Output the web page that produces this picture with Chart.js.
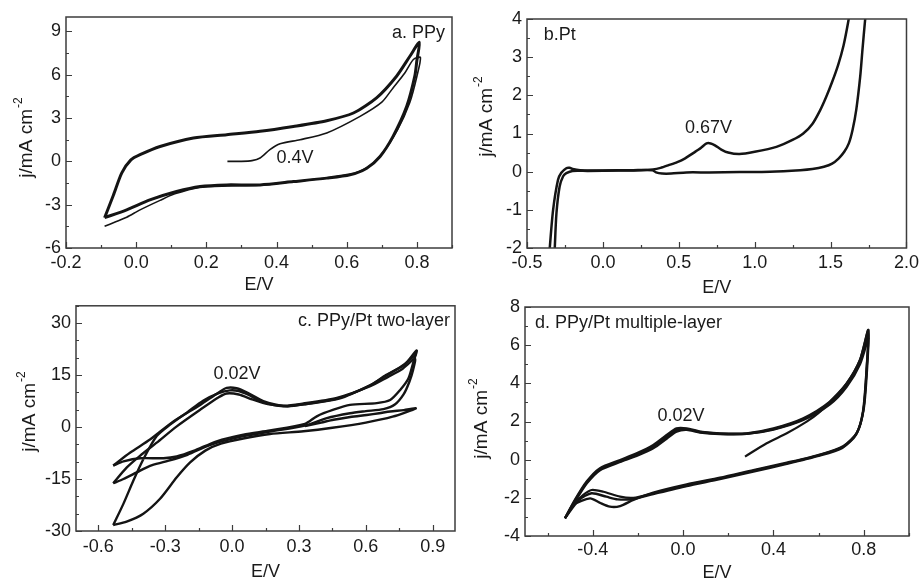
<!DOCTYPE html>
<html>
<head>
<meta charset="utf-8">
<script src="https://cdn.jsdelivr.net/npm/chart.js@4.4.1/dist/chart.umd.min.js"></script>
<style>
  html, body { margin: 0; padding: 0; background: #fff; overflow: hidden; }
  body { width: 923px; height: 580px; position: relative; }
  canvas { position: absolute; }
</style>
</head>
<body>
<canvas id="chart-a" width="462" height="300" style="left:0;top:0"></canvas>
<canvas id="chart-b" width="461" height="300" style="left:462px;top:0"></canvas>
<canvas id="chart-c" width="462" height="300" style="left:0;top:290px"></canvas>
<canvas id="chart-d" width="461" height="300" style="left:462px;top:290px"></canvas>
<script>
const FONT = '"Liberation Sans", Arial, sans-serif';

// a. PPy  (E/V, j/mA cm-2)
const aScan1E = [0.26, 0.30, 0.33, 0.353, 0.381, 0.41, 0.467, 0.543, 0.638, 0.70, 0.732, 0.765, 0.79, 0.81,
                 0.80, 0.78, 0.745, 0.70, 0.66, 0.61, 0.54, 0.45, 0.35, 0.26, 0.18, 0.11, 0.068, 0.011, -0.027, -0.06, -0.09];
const aScan1J = [0.0, 0.0, 0.05, 0.23, 0.81, 1.22, 1.5, 1.97, 3.12, 4.1, 5.09, 6.1, 7.06, 7.2,
                 5.9, 4.1, 2.2, 0.5, -0.4, -0.9, -1.15, -1.4, -1.65, -1.7, -1.8, -2.25, -2.7, -3.36, -3.87, -4.2, -4.5];
const aCycleE = [-0.09, -0.065, -0.041, -0.015, 0.011, 0.068, 0.163, 0.258, 0.353, 0.448, 0.543, 0.619, 0.685, 0.742, 0.780, 0.807,
                 0.800, 0.794, 0.771, 0.732, 0.695, 0.657, 0.609, 0.543, 0.448, 0.353, 0.258, 0.182, 0.115, 0.039, -0.027, -0.09];
const aCycleJ = [-3.9, -2.35, -0.8, 0.1, 0.46, 1.03, 1.62, 1.85, 2.08, 2.42, 2.82, 3.35, 4.4, 5.9, 7.28, 8.25,
                 7.0, 5.9, 3.81, 1.73, 0.34, -0.47, -0.93, -1.16, -1.4, -1.63, -1.63, -1.74, -2.09, -2.67, -3.36, -3.9];
const aXTicks = [-0.2, 0.0, 0.2, 0.4, 0.6, 0.8];
const aYTicks = [-6, -3, 0, 3, 6, 9];

// b. Pt
const bAnodicE = [-0.32, -0.317, -0.306, -0.285, -0.262, -0.241, -0.2, -0.1, 0.1, 0.25, 0.33, 0.38, 0.433, 0.49, 0.542, 0.60,
                  0.645, 0.683, 0.71, 0.738, 0.78, 0.825, 0.90, 1.0, 1.143, 1.249, 1.32, 1.38, 1.43, 1.47, 1.51, 1.55,
                  1.585, 1.615, 1.635];
const bAnodicJ = [-2.4, -2.0, -1.09, -0.39, -0.12, -0.04, 0.02, 0.02, 0.03, 0.04, 0.06, 0.1, 0.17, 0.25, 0.35, 0.5,
                  0.62, 0.74, 0.74, 0.69, 0.58, 0.5, 0.46, 0.52, 0.65, 0.83, 1.0, 1.25, 1.6, 1.95, 2.35, 2.8,
                  3.3, 3.9, 4.4];
const bCathodicE = [1.74, 1.728, 1.71, 1.695, 1.669, 1.645, 1.62, 1.59, 1.554, 1.51, 1.456, 1.38, 1.30, 1.1, 0.9, 0.7, 0.55, 0.45,
                    0.39, 0.35, 0.327, 0.2, 0.0, -0.15, -0.2, -0.219, -0.241, -0.274, -0.296, -0.328, -0.35, -0.355];
const bCathodicJ = [4.4, 4.0, 3.2, 2.49, 1.62, 1.1, 0.74, 0.52, 0.35, 0.21, 0.13, 0.07, 0.04, 0.0, -0.01, -0.02, -0.02, -0.05,
                    -0.05, -0.02, 0.04, 0.04, 0.03, 0.04, 0.07, 0.1, 0.09, -0.03, -0.22, -1.0, -2.0, -2.4];
const bXTicks = [-0.5, 0.0, 0.5, 1.0, 1.5, 2.0];
const bYTicks = [-2, -1, 0, 1, 2, 3, 4];

// c. PPy/Pt two-layer
const cScan1E = [0.327, 0.40, 0.455, 0.53, 0.604, 0.66, 0.709, 0.77, 0.824, 0.72, 0.60, 0.45, 0.32, 0.17, 0.05, -0.05,
                 -0.12, -0.188, -0.248, -0.323, -0.398, -0.473, -0.533];
const cScan1J = [0.3, 1.3, 2.1, 2.9, 3.5, 4.0, 4.5, 4.9, 5.4, 3.0, 1.3, -0.2, -1.2, -2.0, -3.3, -4.8,
                 -6.8, -10.2, -14.5, -20.7, -25.0, -27.3, -28.3];
const cScan2E = [-0.533, -0.487, -0.443, -0.398, -0.338, -0.278, -0.2, -0.13, -0.06, -0.01, 0.03, 0.07, 0.14, 0.23, 0.32, 0.47,
                 0.62, 0.69, 0.77, 0.828, 0.813, 0.791, 0.754, 0.709, 0.649, 0.529, 0.455, 0.38, 0.327, 0.17, 0.051, -0.069,
                 -0.173, -0.248, -0.308, -0.413, -0.487, -0.533];
const cScan2J = [-28.3, -22.1, -15.5, -9.3, -2.6, 0.7, 4.3, 7.6, 9.8, 10.6, 10.4, 9.4, 7.2, 6.0, 6.6, 8.2,
                 12.0, 15.0, 17.8, 22.1, 18.7, 14.0, 10.7, 7.8, 6.9, 6.4, 5.0, 3.1, 0.9, -1.0, -2.2, -4.1,
                 -6.9, -8.5, -9.0, -9.0, -9.9, -11.1];
const cScan3E = [-0.533, -0.458, -0.368, -0.263, -0.143, -0.06, -0.024, 0.02, 0.07, 0.14, 0.23, 0.32, 0.47, 0.62, 0.70, 0.76,
                 0.82, 0.812, 0.795, 0.77, 0.73, 0.679, 0.60, 0.529, 0.425, 0.327, 0.17, 0.03, -0.1, -0.2, -0.3, -0.368,
                 -0.428, -0.487, -0.533];
const cScan3J = [-11.1, -7.4, -3.6, 1.6, 6.4, 10.0, 11.3, 11.2, 9.9, 7.5, 6.2, 6.8, 8.4, 11.8, 14.5, 16.6,
                 19.7, 16.5, 13.0, 9.5, 6.5, 5.2, 4.6, 4.0, 2.6, 0.4, -1.3, -2.9, -5.2, -8.0, -10.0, -11.2,
                 -13.1, -15.0, -16.2];
const cScan4E = [-0.533, -0.473, -0.413, -0.338, -0.248, -0.143, -0.06, -0.024, 0.03, 0.09, 0.16, 0.25, 0.33, 0.48, 0.62,
                 0.70, 0.77, 0.825];
const cScan4J = [-16.2, -11.7, -8.3, -4.5, 0.2, 5.0, 8.6, 9.7, 9.4, 8.0, 6.6, 6.0, 6.6, 8.2, 12.1,
                 15.2, 18.0, 21.0];
const cXTicks = [-0.6, -0.3, 0.0, 0.3, 0.6, 0.9];
const cYTicks = [-30, -15, 0, 15, 30];

// d. PPy/Pt multiple-layer
const dCycle1E = [0.274, 0.37, 0.459, 0.547, 0.60, 0.65, 0.724, 0.783, 0.82, 0.813, 0.798, 0.768, 0.709, 0.606, 0.459, 0.311,
                  0.163, 0.016, -0.132, -0.22, -0.279, -0.353, -0.405, -0.442, -0.479, -0.523];
const dCycle1J = [0.16, 0.86, 1.38, 1.99, 2.45, 3.04, 4.0, 5.23, 6.8, 4.88, 2.6, 1.38, 0.68, 0.25, -0.19, -0.58,
                  -0.98, -1.33, -1.76, -2.0, -1.94, -1.68, -1.59, -1.85, -2.29, -3.07];
const dCycle2E = [-0.523, -0.479, -0.427, -0.368, -0.279, -0.206, -0.132, -0.073, -0.029, 0.016, 0.075, 0.163, 0.281, 0.40,
                  0.532, 0.65, 0.724, 0.783, 0.82, 0.812, 0.796, 0.765, 0.705, 0.60, 0.459, 0.311, 0.163, 0.016, -0.132,
                  -0.22, -0.29, -0.34, -0.405, -0.46, -0.523];
const dCycle2J = [-3.07, -2.11, -1.15, -0.45, -0.02, 0.33, 0.77, 1.29, 1.64, 1.64, 1.47, 1.38, 1.38, 1.64,
                  2.17, 3.04, 4.0, 5.23, 6.8, 4.7, 2.5, 1.3, 0.62, 0.2, -0.22, -0.62, -1.02, -1.38, -1.8,
                  -2.06, -2.08, -1.94, -1.76, -2.1, -3.07];
const dCycle3E = [-0.523, -0.479, -0.427, -0.368, -0.279, -0.206, -0.132, -0.073, -0.029, 0.016, 0.075, 0.163, 0.281, 0.40,
                  0.532, 0.65, 0.724, 0.783, 0.82, 0.815, 0.80, 0.77, 0.71, 0.61, 0.459, 0.311, 0.163, 0.016, -0.132,
                  -0.22, -0.279, -0.324, -0.37, -0.412, -0.486, -0.523];
const dCycle3J = [-3.07, -2.15, -1.2, -0.5, -0.08, 0.25, 0.68, 1.2, 1.55, 1.6, 1.45, 1.36, 1.36, 1.6,
                  2.12, 2.95, 3.9, 5.1, 6.6, 4.9, 2.7, 1.42, 0.72, 0.28, -0.16, -0.55, -0.95, -1.3, -1.73,
                  -2.11, -2.43, -2.46, -2.25, -2.03, -2.37, -3.07];
const dCycle4E = [-0.523, -0.479, -0.427, -0.368, -0.279, -0.206, -0.132, -0.073, -0.029, 0.016, 0.075, 0.163, 0.281, 0.40,
                  0.532, 0.65, 0.724, 0.783, 0.82];
const dCycle4J = [-3.07, -2.2, -1.25, -0.55, -0.12, 0.2, 0.6, 1.1, 1.47, 1.56, 1.42, 1.34, 1.35, 1.58,
                  2.08, 2.9, 3.82, 5.0, 6.4];
const dXTicks = [-0.4, 0.0, 0.4, 0.8];
const dYTicks = [-4, -2, 0, 2, 4, 6, 8];

function pts(es, js) {
  return es.map((e, i) => ({x: e, y: js[i]}));
}

function curve(es, js, w) {
  return {
    data: pts(es, js),
    showLine: true,
    pointRadius: 0,
    borderColor: '#141414',
    borderWidth: w,
    tension: 0.25,
    fill: false,
  };
}

// frame, inward ticks, y title and notes
const framePlugin = {
  id: 'frame',
  afterDraw(chart, args, o) {
    const {ctx, chartArea: a} = chart;
    const sx = chart.scales.x, sy = chart.scales.y;
    ctx.save();
    ctx.strokeStyle = '#3c3c3c';
    ctx.lineWidth = 1.5;
    ctx.strokeRect(a.left, a.top, a.right - a.left, a.bottom - a.top);

    ctx.lineWidth = 1.2;
    ctx.beginPath();
    const isMajor = (list, v) => list.some(t => Math.abs(t - v) < 1e-6);
    for (let n = Math.ceil(sx.min / o.xMinor - 1e-6); n * o.xMinor <= sx.max + 1e-6; n++) {
      const v = n * o.xMinor;
      const px = Math.round(sx.getPixelForValue(v)) + 0.5;
      const len = isMajor(o.xTicks, v) ? 6 : 3;
      ctx.moveTo(px, a.bottom);
      ctx.lineTo(px, a.bottom - len);
    }
    for (let n = Math.ceil(sy.min / o.yMinor - 1e-6); n * o.yMinor <= sy.max + 1e-6; n++) {
      const v = n * o.yMinor;
      const py = Math.round(sy.getPixelForValue(v)) + 0.5;
      const len = isMajor(o.yTicks, v) ? 6 : 3;
      ctx.moveTo(a.left, py);
      ctx.lineTo(a.left + len, py);
    }
    ctx.stroke();

    ctx.fillStyle = '#1a1a1a';
    ctx.textBaseline = 'middle';
    ctx.font = '18px ' + FONT;
    o.notes.forEach(n => {
      ctx.textAlign = n.align;
      ctx.fillText(n.text, sx.getPixelForValue(n.e), sy.getPixelForValue(n.j));
    });

    // y title with superscript
    ctx.translate(o.yTitle[0], o.yTitle[1]);
    ctx.rotate(-Math.PI / 2);
    ctx.textAlign = 'left';
    const main = 'j/mA cm';
    const sup = '-2';
    ctx.font = '19px ' + FONT;
    const wMain = ctx.measureText(main).width;
    ctx.font = '12px ' + FONT;
    const wSup = ctx.measureText(sup).width;
    const x0 = -(wMain + wSup) / 2;
    ctx.font = '19px ' + FONT;
    ctx.fillText(main, x0, 0);
    ctx.font = '12px ' + FONT;
    ctx.fillText(sup, x0 + wMain + 1, -8);
    ctx.restore();
  }
};

function axis(s, which) {
  return {
    type: 'linear',
    min: s.min,
    max: s.max,
    afterBuildTicks: sc => { sc.ticks = s.ticks.map(v => ({value: v})); },
    afterFit: sc => {
      if (which === 'x') sc.height = s.size; else sc.width = s.size;
    },
    grid: {display: false, drawTicks: false},
    border: {display: false},
    ticks: {
      autoSkip: false,
      maxRotation: 0,
      padding: s.tickPad,
      color: '#1a1a1a',
      font: {family: FONT, size: 18},
      callback: v => Number(v).toFixed(s.dec),
    },
    title: which === 'x'
      ? {display: true, text: 'E/V', color: '#1a1a1a', font: {family: FONT, size: 18}, padding: {top: 0, bottom: s.titlePad}}
      : {display: false},
  };
}

function makeChart(id, p) {
  return new Chart(document.getElementById(id), {
    type: 'scatter',
    data: {datasets: p.datasets},
    options: {
      responsive: false,
      animation: false,
      events: [],
      layout: {padding: p.pad},
      plugins: {legend: {display: false}, tooltip: {enabled: false}, frame: p.frame},
      scales: {x: axis(p.x, 'x'), y: axis(p.y, 'y')},
    },
    plugins: [framePlugin],
  });
}

makeChart('chart-a', {
  datasets: [curve(aScan1E, aScan1J, 1.6), curve(aCycleE, aCycleJ, 3)],
  pad: {top: 17, right: 10, left: 0, bottom: 0},
  x: {min: -0.2, max: 0.9, ticks: aXTicks, dec: 1, size: 52, tickPad: 4, titlePad: 4},
  y: {min: -6, max: 10, ticks: aYTicks, dec: 0, size: 66, tickPad: 5},
  frame: {xTicks: aXTicks, yTicks: aYTicks, xMinor: 0.1, yMinor: 1.5, yTitle: [27, 138],
          notes: [{text: 'a. PPy', e: 0.88, j: 8.9, align: 'right'}, {text: '0.4V', e: 0.40, j: 0.25, align: 'left'}]},
});

makeChart('chart-b', {
  datasets: [curve(bAnodicE, bAnodicJ, 2.5), curve(bCathodicE, bCathodicJ, 2.5)],
  pad: {top: 19, right: 13, left: 0, bottom: 0},
  x: {min: -0.5, max: 2.0, ticks: bXTicks, dec: 1, size: 52, tickPad: 4, titlePad: 1},
  y: {min: -2, max: 4, ticks: bYTicks, dec: 0, size: 65, tickPad: 5},
  frame: {xTicks: bXTicks, yTicks: bYTicks, xMinor: 0.25, yMinor: 0.5, yTitle: [25, 117],
          notes: [{text: 'b.Pt', e: -0.389, j: 3.58, align: 'left'}, {text: '0.67V', e: 0.695, j: 1.14, align: 'center'}]},
});

makeChart('chart-c', {
  datasets: [curve(cScan1E, cScan1J, 2.4), curve(cScan2E, cScan2J, 2.4), curve(cScan3E, cScan3J, 2.4), curve(cScan4E, cScan4J, 2.4)],
  pad: {top: 13, right: 7, left: 0, bottom: 0},
  x: {min: -0.7, max: 1.0, ticks: cXTicks, dec: 1, size: 59, tickPad: 5, titlePad: 7},
  y: {min: -30, max: 35, ticks: cYTicks, dec: 0, size: 76, tickPad: 5},
  frame: {xTicks: cXTicks, yTicks: cYTicks, xMinor: 0.15, yMinor: 5, yTitle: [30, 122],
          notes: [{text: 'c. PPy/Pt two-layer', e: 0.978, j: 30.7, align: 'right'}, {text: '0.02V', e: 0.022, j: 15.3, align: 'center'}]},
});

makeChart('chart-d', {
  datasets: [curve(dCycle1E, dCycle1J, 2.2), curve(dCycle2E, dCycle2J, 2.4), curve(dCycle3E, dCycle3J, 2.4), curve(dCycle4E, dCycle4J, 2.4)],
  pad: {top: 17, right: 14, left: 0, bottom: 0},
  x: {min: -0.7, max: 1.0, ticks: dXTicks, dec: 1, size: 54, tickPad: 3, titlePad: 6},
  y: {min: -4, max: 8, ticks: dYTicks, dec: 0, size: 63, tickPad: 5},
  frame: {xTicks: dXTicks, yTicks: dYTicks, xMinor: 0.2, yMinor: 1, yTitle: [20, 129],
          notes: [{text: 'd. PPy/Pt multiple-layer', e: -0.656, j: 7.16, align: 'left'}, {text: '0.02V', e: -0.009, j: 2.29, align: 'center'}]},
});
</script>
</body>
</html>
